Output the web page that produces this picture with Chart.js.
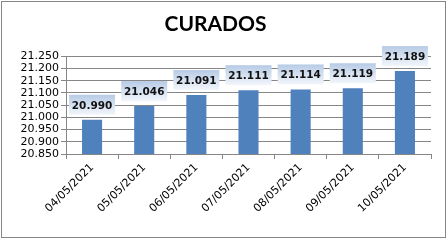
<!DOCTYPE html>
<html>
<head>
<meta charset="utf-8">
<script src="https://cdn.jsdelivr.net/npm/chart.js@4/dist/chart.umd.min.js"></script>
<style>
html,body{margin:0;padding:0;background:#fff;}
#wrap{width:447px;height:241px;position:relative;}
</style>
</head>
<body>
<div id="wrap"><canvas id="c" width="447" height="241"></canvas></div>
<script>
const titleText = "CURADOS";
const categories = ["04/05/2021","05/05/2021","06/05/2021","07/05/2021","08/05/2021","09/05/2021","10/05/2021"];
const values = [20.990, 21.046, 21.091, 21.111, 21.114, 21.119, 21.189];
const yMin = 20.85, yMax = 21.25, yStep = 0.05;

const frame = {
  id: 'frame',
  beforeDraw(chart) {
    const ctx = chart.ctx;
    ctx.save();
    ctx.fillStyle = '#ffffff';
    ctx.fillRect(0, 0, chart.width, chart.height);
    ctx.strokeStyle = '#868686';
    ctx.lineWidth = 1;
    ctx.strokeRect(1.5, 1.5, 444, 236);
    ctx.restore();
  }
};

const valueLabels = {
  id: 'valueLabels',
  afterDatasetsDraw(chart) {
    const ctx = chart.ctx;
    const meta = chart.getDatasetMeta(0);
    ctx.save();
    ctx.font = 'bold 10.5px "DejaVu Sans"';
    ctx.textAlign = 'center';
    ctx.textBaseline = 'middle';
    meta.data.forEach((bar, i) => {
      const txt = values[i].toFixed(3);
      const w = 46, h = 20;
      const x = bar.x - w / 2;
      const bottom = bar.y - 5;
      const y = bottom - h;
      const g = ctx.createLinearGradient(0, y, 0, bottom);
      g.addColorStop(0, '#b7cbe6');
      g.addColorStop(1, '#f2f6fb');
      ctx.fillStyle = g;
      ctx.fillRect(x, y, w, h);
      ctx.fillStyle = '#111111';
      ctx.fillText(txt, bar.x, y + h / 2 + 1);
    });
    ctx.restore();
  }
};

new Chart(document.getElementById('c'), {
  type: 'bar',
  data: {
    labels: categories,
    datasets: [{
      data: values,
      backgroundColor: '#4f81bd',
      borderWidth: 0,
      barPercentage: 0.385,
      categoryPercentage: 1
    }]
  },
  options: {
    responsive: false,
    animation: false,
    devicePixelRatio: 1,
    layout: { padding: { left: 0, right: 16, top: 0, bottom: 4 } },
    plugins: {
      legend: { display: false },
      tooltip: { enabled: false },
      title: {
        display: true,
        text: titleText,
        color: '#000000',
        font: { family: 'Lato', weight: 'bold', size: 21, lineHeight: 1.2 },
        padding: { top: 12, bottom: 19 }
      }
    },
    scales: {
      x: {
        offset: true,
        grid: {
          display: true,
          offset: true,
          drawOnChartArea: false,
          drawTicks: true,
          tickLength: 5,
          color: '#868686'
        },
        border: { display: true, color: '#868686' },
        ticks: {
          autoSkip: false,
          minRotation: 45,
          maxRotation: 45,
          color: '#000000',
          font: { family: 'DejaVu Sans', size: 11 },
          padding: 2
        },
        afterFit(scale) { scale.height = 83; }
      },
      y: {
        min: yMin,
        max: yMax,
        grid: {
          color: '#868686',
          tickLength: 5
        },
        border: { display: true, color: '#868686' },
        ticks: {
          autoSkip: false,
          stepSize: yStep,
          color: '#000000',
          font: { family: 'DejaVu Sans', size: 11 },
          padding: 2,
          callback: (v) => Number(v).toFixed(3)
        },
        afterFit(scale) { scale.width = 66; }
      }
    }
  },
  plugins: [frame, valueLabels]
});
</script>
</body>
</html>
